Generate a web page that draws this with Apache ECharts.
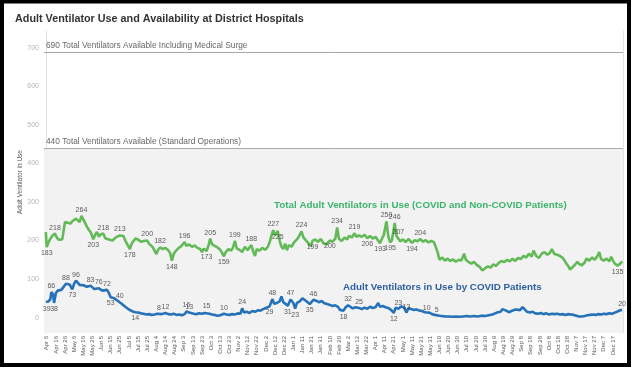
<!DOCTYPE html>
<html><head><meta charset="utf-8">
<script src="https://cdn.jsdelivr.net/npm/echarts@6/dist/echarts.min.js"></script>
<style>html,body{margin:0;padding:0;background:#fff}#c{width:633px;height:368px}</style>
</head><body><div id="c"></div>
<script>
// x values are days since Apr 6, 2020
const tickLabels = ['Apr 6','Apr 16','Apr 26','May 6','May 16','May 26','Jun 5','Jun 15','Jun 25','Jul 5','Jul 15','Jul 25','Aug 4','Aug 14','Aug 24','Sep 3','Sep 13','Sep 23','Oct 3','Oct 13','Oct 23','Nov 2','Nov 12','Nov 22','Dec 2','Dec 12','Dec 22',
 'Jan 1','Jan 11','Jan 21','Jan 31','Feb 10','Feb 20','Mar 2','Mar 12','Mar 22','Apr 1','Apr 11','Apr 21','May 1','May 11','May 21','May 31','Jun 10','Jun 20','Jun 30','Jul 10','Jul 20','Jul 30','Aug 9','Aug 19','Aug 29','Sep 8','Sep 18','Sep 28','Oct 8','Oct 18','Oct 28','Nov 7','Nov 17','Nov 27','Dec 7','Dec 17'];
const tickDays = tickLabels.map((_, i) => i * 10);
const yTicks = [0,100,200,300,400,500,600,700];

// Total ventilators in use (COVID + non-COVID): [day, value]
const greenPoints = [[-1,222],[2,196],[4,205],[6,212],[11,208],[13,202],[15,199],[17,203],[19,202],[20,248],[23,246],[26,244],[28,250],[30,247],[32,257],[34,262],[36,248],[40,255],[42,258],[44,236],[46,228],[48,222],[50,218],[53,215],[55,222],[57,210],[59,216],[64,206],[66,211],[68,203],[70,208],[72,200],[74,204],[76,209],[78,206],[82,209],[84,212],[86,200],[88,195],[93,192],[95,199],[97,205],[100,203],[103,197],[106,199],[112,192],[114,188],[116,183],[118,174],[120,165],[122,176],[127,178],[130,181],[133,175],[135,168],[139,165],[141,172],[144,180],[147,185],[153,186],[156,190],[159,184],[162,187],[165,181],[168,178],[170,170],[172,179],[177,186],[181,190],[184,186],[187,182],[190,176],[192,168],[196,170],[199,178],[202,174],[204,182],[208,180],[211,176],[214,170],[217,184],[220,175],[222,182],[226,172],[228,160],[230,178],[233,174],[236,181],[239,176],[242,183],[244,195],[246,212],[250,214],[255,200],[257,184],[259,178],[261,192],[263,175],[265,188],[268,184],[271,196],[274,203],[276,210],[281,208],[284,200],[287,192],[289,185],[294,203],[297,197],[300,204],[303,193],[306,190],[308,195],[313,197],[316,205],[320,204],[323,199],[326,208],[329,203],[331,212],[334,208],[339,210],[342,213],[345,210],[348,215],[354,212],[357,205],[360,210],[362,203],[367,205],[369,214],[374,210],[378,201],[383,212],[387,198],[390,203],[393,196],[396,204],[398,199],[403,201],[406,198],[412,197],[415,201],[418,195],[421,199],[424,196],[426,200],[428,170],[430,150],[433,156],[436,148],[439,153],[442,147],[445,151],[448,145],[451,150],[454,148],[457,166],[459,150],[462,144],[465,140],[468,145],[471,136],[474,132],[477,122],[480,128],[483,133],[486,130],[489,138],[492,134],[495,142],[498,147],[501,144],[504,150],[507,146],[510,153],[513,147],[516,155],[519,152],[522,160],[525,156],[528,166],[531,158],[533,174],[536,160],[539,155],[542,166],[545,170],[548,163],[551,168],[553,178],[556,165],[559,163],[562,160],[565,155],[567,148],[569,140],[571,134],[573,125],[575,130],[578,136],[581,145],[583,139],[586,136],[589,143],[591,153],[594,148],[597,156],[600,150],[603,160],[605,170],[607,152],[610,148],[613,153],[616,146],[618,158],[620,148],[622,140],[628,140],[630,146]];
const greenPeaks = [[9,218],[38,264],[62,218],[80,213],[110,200],[124,182],[151,196],[179,205],[206,199],[224,188],[248,227],[279,224],[318,234],[337,219],[372,250],[381,246],[385,207],[409,204]];
const greenDips = [[0,183],[51,203],[91,178],[137,148],[175,173],[194,159],[253,225],[291,199],[310,200],[351,206],[365,193],[376,195],[400,194],[625,135]];

// Ventilators in use by COVID patients: [day, value]
const bluePoints = [[-1,41],[2,42],[4,48],[7,60],[10,64],[12,70],[14,68],[16,72],[18,75],[23,84],[25,86],[30,88],[34,92],[36,85],[38,90],[40,84],[42,86],[44,80],[46,79],[50,80],[52,74],[54,78],[59,71],[61,70],[63,74],[68,64],[72,54],[74,50],[76,46],[78,43],[82,36],[84,32],[86,28],[88,24],[90,21],[92,18],[94,16],[100,13],[103,11],[106,10],[109,8],[112,9],[115,7],[118,8],[121,10],[126,9],[133,9],[136,8],[139,10],[142,7],[145,8],[148,6],[151,9],[158,8],[161,10],[164,9],[167,11],[170,10],[173,12],[178,10],[181,8],[184,7],[187,5],[190,6],[192,8],[197,8],[200,7],[203,9],[206,8],[209,11],[212,10],[216,13],[219,15],[222,12],[225,17],[228,15],[231,19],[234,18],[237,22],[240,25],[242,30],[249,36],[252,38],[255,42],[257,55],[259,40],[261,44],[270,38],[274,38],[277,42],[280,50],[282,52],[284,43],[286,38],[290,40],[295,44],[298,40],[301,43],[304,37],[307,35],[310,33],[313,30],[316,32],[319,28],[321,20],[323,19],[327,26],[332,28],[335,24],[338,27],[345,22],[348,26],[351,23],[354,28],[357,25],[360,27],[363,38],[365,28],[368,30],[371,27],[374,25],[377,20],[382,26],[388,29],[391,27],[396,24],[399,22],[402,20],[405,21],[408,18],[411,17],[414,14],[419,13],[422,9],[425,7],[430,5],[433,4],[436,3],[440,3],[444,2],[448,3],[452,2],[456,3],[460,4],[464,3],[468,4],[472,3],[476,5],[480,4],[484,6],[488,8],[491,11],[494,14],[497,15],[499,22],[501,17],[503,18],[506,14],[509,17],[512,20],[515,21],[518,19],[521,27],[523,22],[526,15],[529,13],[532,15],[535,11],[538,10],[541,12],[544,9],[547,11],[550,8],[553,10],[556,9],[559,10],[562,8],[565,9],[568,7],[571,9],[574,8],[577,7],[580,5],[583,3],[586,3],[589,4],[592,6],[595,7],[598,8],[601,7],[604,9],[607,8],[610,10],[613,9],[616,11],[619,10],[622,13],[625,16],[628,19]];
const bluePeaks = [[5,66],[21,88],[32,96],[48,83],[57,76],[66,72],[80,40],[123,8],[130,12],[153,16],[156,13],[175,15],[194,10],[214,24],[247,48],[267,47],[292,46],[330,32],[342,25],[385,23],[394,13],[416,10],[427,5],[630,20]];
const blueDips = [[0,39],[8,38],[28,73],[70,53],[97,14],[244,29],[264,31],[272,23],[288,35],[325,18],[380,12]];

const surgeCapacity = 690, standardCapacity = 440;
const surgeText = '690 Total Ventilators Available Including Medical Surge';
const standardText = '440 Total Ventilators Available (Standard Operations)';
const greenTitle = 'Total Adult Ventilators in Use (COVID and Non-COVID Patients)';
const blueTitle = 'Adult Ventilators in Use by COVID Patients';

const merge = (...arrs) => [].concat(...arrs).sort((a, b) => a[0] - b[0]);
const greenData = merge(greenPoints, greenPeaks, greenDips);
const blueData = merge(bluePoints, bluePeaks, blueDips);

const FONT = 'Liberation Sans';
const GREEN = '#62b957', BLUE = '#2572b8';
const lbl = (pos) => ({ show: true, position: pos, distance: 2, formatter: p => p.value[1], fontSize: 7, color: '#333', fontFamily: FONT });
const labelSeries = (data, pos) => ({ type: 'scatter', data, symbolSize: 1, itemStyle: { color: 'rgba(0,0,0,0)' }, label: lbl(pos), silent: true, z: 5 });

const chart = echarts.init(document.getElementById('c'), null, { renderer: 'canvas' });
chart.setOption({
  animation: false,
  backgroundColor: '#fff',
  textStyle: { fontFamily: FONT },
  title: { text: 'Adult Ventilator Use and Availability at District Hospitals', left: 15, top: 14, padding: 0,
    textStyle: { fontSize: 10.8, fontWeight: 'bold', color: '#333', fontFamily: FONT } },
  grid: { left: 44, right: 10, top: 31, bottom: 35, containLabel: false },
  xAxis: {
    type: 'value', min: -3, max: 631,
    axisLine: { show: false }, axisTick: { show: false }, splitLine: { show: false },
    axisLabel: { customValues: tickDays, formatter: v => tickLabels[Math.round(v / 10)], rotate: 90, fontSize: 6, color: '#555', margin: 3 }
  },
  yAxis: [{
    type: 'value', min: -40, max: 744,
    name: 'Adult Ventilator in Use', nameLocation: 'middle', nameGap: 20, nameMoveOverlap: false,
    nameTextStyle: { fontSize: 6.5, color: '#555' },
    axisLine: { show: true, lineStyle: { color: '#e2e2e2' } }, axisTick: { show: false }, splitLine: { show: false },
    axisLabel: { customValues: yTicks, fontSize: 7, color: '#b5b5b5', margin: 5 }
  }, {
    type: 'value', min: -40, max: 744, position: 'right',
    axisLine: { show: true, lineStyle: { color: '#e2e2e2' } }, axisTick: { show: false }, splitLine: { show: false }, axisLabel: { show: false }
  }],
  series: [
    { type: 'line', data: greenData, showSymbol: false, symbol: 'none', lineStyle: { color: GREEN, width: 2.6 }, itemStyle: { color: GREEN }, z: 3,
      markArea: { silent: true, itemStyle: { color: '#f2f2f2' }, data: [[{ yAxis: standardCapacity }, { yAxis: -40 }]] },
      markLine: { silent: true, symbol: ['none', 'none'], lineStyle: { color: '#a8a8a8', type: 'solid', width: 1 },
        label: { position: 'insideStartTop', fontSize: 8.3, color: '#666', distance: [2, 2] },
        data: [{ yAxis: surgeCapacity, label: { formatter: surgeText } }, { yAxis: standardCapacity, label: { formatter: standardText } }] }
    },
    { type: 'line', data: blueData, showSymbol: false, symbol: 'none', lineStyle: { color: BLUE, width: 2.6 }, itemStyle: { color: BLUE }, z: 3 },
    labelSeries(greenPeaks, 'top'), labelSeries(greenDips, 'bottom'),
    labelSeries(bluePeaks, 'top'), labelSeries(blueDips, 'bottom')
  ],
  graphic: [
    { type: 'text', x: 274, y: 205, z: 50, style: { text: greenTitle, fill: '#3bb46c', fontSize: 9.8, fontWeight: 'bold', fontFamily: FONT, verticalAlign: 'middle' } },
    { type: 'text', x: 343, y: 287, z: 50, style: { text: blueTitle, fill: '#2c5f9f', fontSize: 9.8, fontWeight: 'bold', fontFamily: FONT, verticalAlign: 'middle' } },
    { type: 'rect', shape: { x: 2, y: 1.5, width: 627, height: 363.5 }, style: { fill: 'none', stroke: '#000', lineWidth: 4 }, z: 100 }
  ]
});
</script></body></html>
